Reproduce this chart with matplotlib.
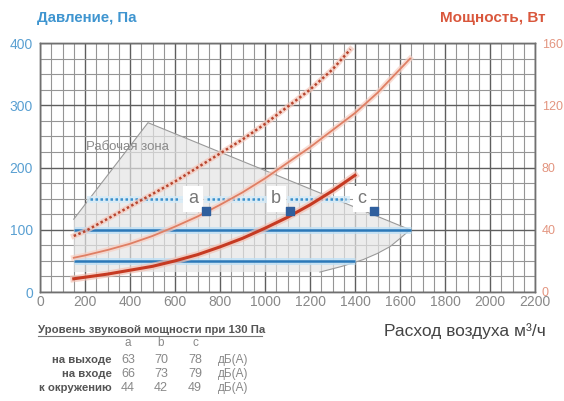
import matplotlib
matplotlib.use("Agg")
import matplotlib.pyplot as plt
from matplotlib.ticker import MultipleLocator

plt.rcParams['font.family'] = ['Liberation Sans', 'DejaVu Sans']

# ---- data ----
x_ticks = [0, 200, 400, 600, 800, 1000, 1200, 1400, 1600, 1800, 2000, 2200]
p_ticks = [0, 100, 200, 300, 400]
w_ticks = [0, 40, 80, 120, 160]

# constant pressure lines (Pa)
p_line1_x = [150, 1650]; p_line1_y = [100, 100]
p_line2_x = [150, 1400]; p_line2_y = [50, 50]
p_dot_segments = [([220, 620], 150), ([740, 990], 150), ([1110, 1360], 150)]

# power curves (W)
w_dot_x = [150, 200, 300, 400, 500, 600, 700, 800, 900, 1000, 1100, 1200, 1300, 1380]
w_dot_y = [36, 39, 47, 55, 63, 71, 80, 89, 98, 108, 119, 130, 143, 156]
w_thin_x = [150, 200, 300, 400, 500, 600, 700, 800, 900, 1000, 1100, 1200, 1300, 1400, 1500, 1645]
w_thin_y = [22, 23.5, 27, 31, 36, 42, 48.5, 56, 64, 73, 83, 93, 104, 115, 128, 150]
w_thick_x = [150, 200, 300, 400, 500, 600, 700, 800, 900, 1000, 1100, 1200, 1300, 1400]
w_thick_y = [8.5, 9.5, 11.5, 14, 16.5, 20, 24, 29, 34.5, 41, 48, 56, 65, 75]

# working zone (Pa)
zone_x = [150, 480, 1645, 1600, 1556, 1500, 1436, 1340, 1244]
zone_y = [117, 272, 100, 86, 73, 62, 52, 41, 32]
zone_fill_x = zone_x + [150]
zone_fill_y = zone_y + [32]

# operating points
pt_labels = ['a', 'b', 'c']
pt_label_x = [680, 1050, 1430]
pt_label_y = [150, 150, 150]
pt_x = [738, 1111, 1484]
pt_y = [130, 130, 130]

# sound table
tbl_title = 'Уровень звуковой мощности при 130 Па'
tbl_rows = ['на выходе', 'на входе', 'к окружению']
tbl_vals = [[63, 70, 78], [66, 73, 79], [44, 42, 49]]
tbl_unit = 'дБ(А)'

BLUE = '#2b78b8'
BLUE_T = '#3f95d0'
RED_T = '#d9573c'
RED_TK = '#e39580'

fig = plt.figure(figsize=(5.64, 4.01), dpi=100)
ax = fig.add_axes([40/564, 1-292/401, 495/564, 249/401])
ax.set_xlim(0, 2200)
ax.set_ylim(0, 400)
ax2 = ax.twinx()
ax2.set_ylim(0, 160)

ax.xaxis.set_major_locator(MultipleLocator(200))
ax.xaxis.set_minor_locator(MultipleLocator(50))
ax.yaxis.set_major_locator(MultipleLocator(100))
ax.yaxis.set_minor_locator(MultipleLocator(25))
ax.grid(which='major', color='#5e5e5e', lw=1.0, zorder=0)
ax.grid(which='minor', color='#959595', lw=0.8, zorder=0)
ax.set_axisbelow(True)
for a in (ax, ax2):
    for s in a.spines.values():
        s.set_color('#707070')
        s.set_linewidth(1.0)
    a.tick_params(which='both', length=0)

ax.set_xticks(x_ticks)
ax.set_xticklabels([str(v) for v in x_ticks], color='#888888', fontsize=10)
ax.set_yticks(p_ticks)
ax.set_yticklabels([str(v) for v in p_ticks], color='#5aa0d2', fontsize=10)
ax2.set_yticks(w_ticks)
ax2.set_yticklabels([str(v) for v in w_ticks], color=RED_TK, fontsize=9)
ax.tick_params(axis='x', pad=2)
ax.tick_params(axis='y', pad=5)
ax2.tick_params(axis='y', pad=5)

# working zone
ax.fill(zone_fill_x, zone_fill_y, color='#e4e4e4', alpha=0.7, lw=0, zorder=1)
ax.plot(zone_x, zone_y, color='#9a9a9a', lw=0.8, zorder=2)
ax.text(205, 233, 'Рабочая зона', color='#8a8a8a', fontsize=9.5, va='center', zorder=3)

# pressure lines
for xs, ys in [(p_line1_x, p_line1_y), (p_line2_x, p_line2_y)]:
    ax.plot(xs, ys, color='#bfe0f5', lw=5, alpha=0.8, zorder=3, solid_capstyle='butt')
    ax.plot(xs, ys, color=BLUE, lw=1.8, zorder=4, solid_capstyle='butt')
for xs, yv in p_dot_segments:
    ax.plot(xs, [yv, yv], color='#d5ebf8', lw=5, alpha=0.8, zorder=3)
    ax.plot(xs, [yv, yv], color='#3a90cc', lw=1.8, ls=(0, (1, 1)), zorder=4)

# power curves
ax2.plot(w_dot_x, w_dot_y, color='#f5c8bb', lw=4, alpha=0.7, zorder=3)
ax2.plot(w_dot_x, w_dot_y, color='#b8452e', lw=1.8, ls=(0, (1, 1)), zorder=4)
ax2.plot(w_thin_x, w_thin_y, color='#f7cfc3', lw=4, alpha=0.7, zorder=3)
ax2.plot(w_thin_x, w_thin_y, color='#df7f64', lw=1.3, zorder=4)
ax2.plot(w_thick_x, w_thick_y, color='#f3c0b2', lw=5, alpha=0.7, zorder=3)
ax2.plot(w_thick_x, w_thick_y, color='#c63a22', lw=2.2, zorder=4)

# points & labels
for lab, lx, ly in zip(pt_labels, pt_label_x, pt_label_y):
    ax2.text(lx, ly * 0.4, lab, color='#777777', fontsize=13, ha='center', va='center',
             zorder=6, bbox=dict(boxstyle='square,pad=0.25', fc='white', ec='none'))
ax2.scatter(pt_x, [v * 0.4 for v in pt_y], marker='s', s=30, color='#2f5f9e', zorder=7)

# titles
fig.text(37/564, 1-18/401, 'Давление, Па', color=BLUE_T, fontsize=10.8, fontweight='bold',
         va='center', ha='left')
fig.text(545/564, 1-18/401, 'Мощность, Вт', color=RED_T, fontsize=11, fontweight='bold',
         va='center', ha='right')
fig.text(465/564, 1-331/401, 'Расход воздуха м³/ч', color='#444444', fontsize=12.5,
         va='center', ha='center')

# table
fig.text(38/564, 1-330/401, tbl_title, color='#555555', fontsize=8.2, fontweight='bold',
         va='center', ha='left')
fig.add_artist(plt.Line2D([38/564, 262/564], [1-336/401, 1-336/401], color='#777777', lw=0.8))
col_x = [128, 161, 195]
for lab, cx in zip(pt_labels, col_x):
    fig.text(cx/564, 1-343/401, lab, color='#888888', fontsize=8.5, va='center', ha='center')
row_y = [360, 374, 388]
for name, vals, ry in zip(tbl_rows, tbl_vals, row_y):
    fig.text(112/564, 1-ry/401, name, color='#555555', fontsize=8.2, fontweight='bold',
             va='center', ha='right')
    for v, cx in zip(vals, col_x):
        fig.text(cx/564, 1-ry/401, str(v), color='#888888', fontsize=9, va='center', ha='center')
    fig.text(218/564, 1-ry/401, tbl_unit, color='#888888', fontsize=8.5, va='center', ha='left')

fig.savefig('out.png', dpi=100, facecolor='white')
